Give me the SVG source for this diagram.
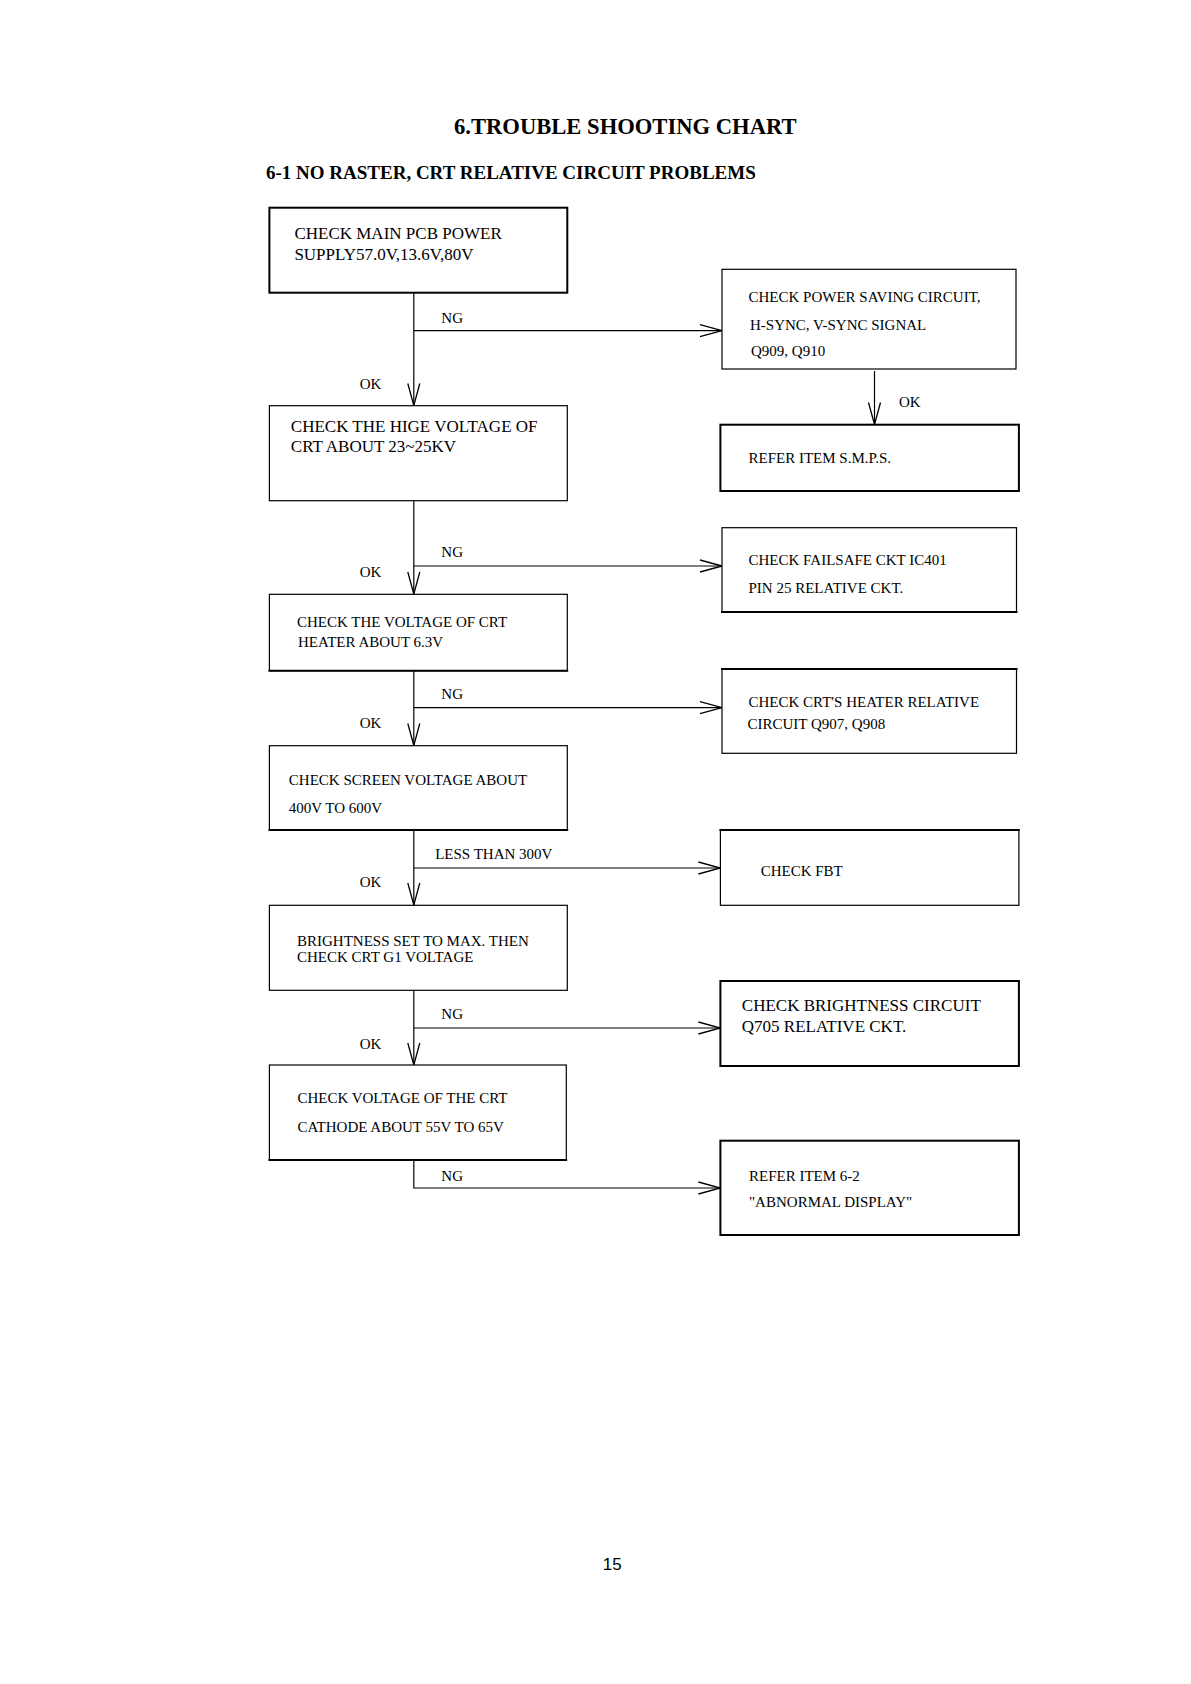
<svg xmlns="http://www.w3.org/2000/svg" width="1191" height="1684" viewBox="0 0 1191 1684">
<style>
text{font-family:"Liberation Serif","Times New Roman",serif;fill:#000}
.t15{font-size:15px}
.t17{font-size:17px}
.lbl{font-size:15px}
.pg{font-family:"Liberation Sans",Arial,sans-serif;font-size:17px}
.box{fill:#fff;stroke:#000;stroke-width:1.2}
.thick{stroke-width:2}
.edge{stroke:#000;stroke-width:2}
.con{fill:none;stroke:#000;stroke-width:1.2}
</style>
<defs>
<marker id="arr" viewBox="0 0 24 14" refX="23" refY="7" markerWidth="24" markerHeight="14" markerUnits="userSpaceOnUse" orient="auto">
<path d="M1,1 L23,7 L1,13" fill="none" stroke="#000" stroke-width="1.3"/>
</marker>
</defs>
<rect width="1191" height="1684" fill="#fff"/>
<text x="454" y="134" font-size="22.6" font-weight="bold">6.TROUBLE SHOOTING CHART</text>
<text x="266" y="179" font-size="19" font-weight="bold">6-1 NO RASTER, CRT RELATIVE CIRCUIT PROBLEMS</text>

<g id="connectors">
<path class="con" d="M413.8,293 V405.5" marker-end="url(#arr)"/>
<path class="con" d="M413.8,330.7 H722" marker-end="url(#arr)"/>
<path class="con" d="M874.5,371 V424.5" marker-end="url(#arr)"/>
<path class="con" d="M413.8,501 V594" marker-end="url(#arr)"/>
<path class="con" d="M413.8,566 H722" marker-end="url(#arr)"/>
<path class="con" d="M413.8,671 V745.5" marker-end="url(#arr)"/>
<path class="con" d="M413.8,707.7 H722" marker-end="url(#arr)"/>
<path class="con" d="M413.8,830 V905" marker-end="url(#arr)"/>
<path class="con" d="M413.8,868 H720.4" marker-end="url(#arr)"/>
<path class="con" d="M413.8,990 V1065" marker-end="url(#arr)"/>
<path class="con" d="M413.8,1028 H720.4" marker-end="url(#arr)"/>
<path class="con" d="M413.8,1160 V1188 H720.4" marker-end="url(#arr)"/>
<text class="lbl" x="441.3" y="322.7">NG</text>
<text class="lbl" x="359.7" y="389">OK</text>
<text class="lbl" x="899" y="407">OK</text>
<text class="lbl" x="441.3" y="557">NG</text>
<text class="lbl" x="359.7" y="577">OK</text>
<text class="lbl" x="441.3" y="699">NG</text>
<text class="lbl" x="359.7" y="728">OK</text>
<text class="lbl" x="435.2" y="859">LESS THAN 300V</text>
<text class="lbl" x="359.7" y="887">OK</text>
<text class="lbl" x="441.3" y="1019">NG</text>
<text class="lbl" x="359.7" y="1049">OK</text>
<text class="lbl" x="441.3" y="1181">NG</text>
</g>

<g id="b1">
<rect class="box thick" x="269.4" y="207.7" width="297.9" height="85"/>
<text class="t17" x="294.4" y="239">CHECK MAIN PCB POWER</text>
<text class="t17" x="294.4" y="260">SUPPLY57.0V,13.6V,80V</text>
</g>
<g id="b2">
<rect class="box" x="269.4" y="405.7" width="297.9" height="95"/>
<text class="t17" x="290.8" y="432">CHECK THE HIGE VOLTAGE OF</text>
<text class="t17" x="290.8" y="452">CRT ABOUT 23~25KV</text>
</g>
<g id="b3">
<rect class="box" x="269.4" y="594.3" width="297.9" height="76.4"/>
<line class="edge" x1="268.5" y1="670.7" x2="568.2" y2="670.7"/>
<text class="t15" x="297" y="627">CHECK THE VOLTAGE OF CRT</text>
<text class="t15" x="298" y="647">HEATER ABOUT 6.3V</text>
</g>
<g id="b4">
<rect class="box" x="269.4" y="745.7" width="297.9" height="84.3"/>
<line class="edge" x1="268.5" y1="830" x2="568.2" y2="830"/>
<text class="t15" x="288.8" y="785">CHECK SCREEN VOLTAGE ABOUT</text>
<text class="t15" x="288.8" y="813">400V TO 600V</text>
</g>
<g id="b5">
<rect class="box" x="269.4" y="905.3" width="297.9" height="85"/>
<text class="t15" x="297" y="946">BRIGHTNESS SET TO MAX. THEN</text>
<text class="t15" x="297" y="962">CHECK CRT G1 VOLTAGE</text>
</g>
<g id="b6">
<rect class="box" x="269.4" y="1065" width="296.9" height="95"/>
<line class="edge" x1="268.5" y1="1160" x2="567.2" y2="1160"/>
<text class="t15" x="297.4" y="1103">CHECK VOLTAGE OF THE CRT</text>
<text class="t15" x="297.4" y="1132">CATHODE ABOUT 55V TO 65V</text>
</g>
<g id="r1">
<rect class="box" x="722" y="269.3" width="294" height="99.7"/>
<text class="t15" x="748.5" y="302">CHECK POWER SAVING CIRCUIT,</text>
<text class="t15" x="750" y="330">H-SYNC, V-SYNC SIGNAL</text>
<text class="t15" x="751" y="356">Q909, Q910</text>
</g>
<g id="r2">
<rect class="box thick" x="720.4" y="424.7" width="298.5" height="66.3"/>
<text class="t15" x="748.5" y="463">REFER ITEM S.M.P.S.</text>
</g>
<g id="r3">
<rect class="box" x="722" y="527.7" width="294.5" height="84.3"/>
<line class="edge" x1="721" y1="612" x2="1017.5" y2="612"/>
<text class="t15" x="748.5" y="565">CHECK FAILSAFE CKT IC401</text>
<text class="t15" x="748.5" y="593">PIN 25 RELATIVE CKT.</text>
</g>
<g id="r4">
<rect class="box" x="722" y="669" width="294.5" height="84.3"/>
<line class="edge" x1="721" y1="669" x2="1017.5" y2="669"/>
<text class="t15" x="748.5" y="707">CHECK CRT'S HEATER RELATIVE</text>
<text class="t15" x="747.5" y="729">CIRCUIT Q907, Q908</text>
</g>
<g id="r5">
<rect class="box" x="720.4" y="830" width="298.5" height="75.3" stroke-width="1.6"/>
<line class="edge" x1="719.5" y1="830" x2="1019.8" y2="830"/>
<text class="t15" x="760.7" y="876">CHECK FBT</text>
</g>
<g id="r6">
<rect class="box thick" x="720.4" y="981" width="298.5" height="85"/>
<text class="t17" x="741.8" y="1011">CHECK BRIGHTNESS CIRCUIT</text>
<text class="t17" x="741.8" y="1032">Q705 RELATIVE CKT.</text>
</g>
<g id="r7">
<rect class="box thick" x="720.4" y="1140.7" width="298.5" height="94.3"/>
<text class="t15" x="749" y="1181">REFER ITEM 6-2</text>
<text class="t15" x="749" y="1207">"ABNORMAL DISPLAY"</text>
</g>

<text class="pg" x="602.7" y="1570">15</text>
</svg>
